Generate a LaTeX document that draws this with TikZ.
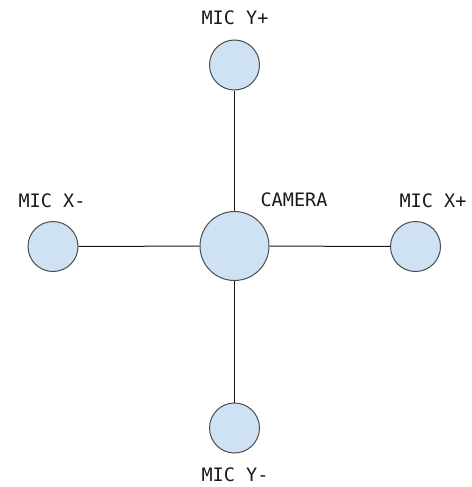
\documentclass[tikz,border=0pt]{standalone}
\usepackage{fontspec}
\setmonofont{DejaVu Sans Mono}
\begin{document}
\begin{tikzpicture}[x=1pt,y=-1pt,
  mic/.style={circle,draw=black!70,fill=micblue,line width=1pt,minimum size=50pt,inner sep=0pt},
  cam/.style={circle,draw=black!70,fill=micblue,line width=1pt,minimum size=69pt,inner sep=0pt},
  lbl/.style={font=\ttfamily\fontsize{18.5}{20}\selectfont,text=black!90,inner sep=0pt,anchor=base},
  wire/.style={draw=black!90,line width=1pt}]
\definecolor{micblue}{HTML}{CFE2F3}
\useasboundingbox (0,0) rectangle (471,487);
\node[cam] (cam) at (234.5,246) {};
\node[mic] (yp) at (234.5,65) {};
\node[mic] (ym) at (234.5,428) {};
\node[mic] (xm) at (53,246.5) {};
\node[mic] (xp) at (415.5,246.5) {};
\draw[wire] (yp) -- (cam);
\draw[wire] (cam) -- (ym);
\draw[wire] (xm) -- (cam);
\draw[wire] (cam) -- (xp);
\node[lbl] (lyp) at (235,25) {MIC Y+};
\node[lbl] (lym) at (235,481) {MIC Y-};
\node[lbl] (lxm) at (52,207) {MIC X-};
\node[lbl] (lxp) at (433,207) {MIC X+};
\node[lbl] (lcam) at (294,206.5) {CAMERA};
\end{tikzpicture}
\end{document}
